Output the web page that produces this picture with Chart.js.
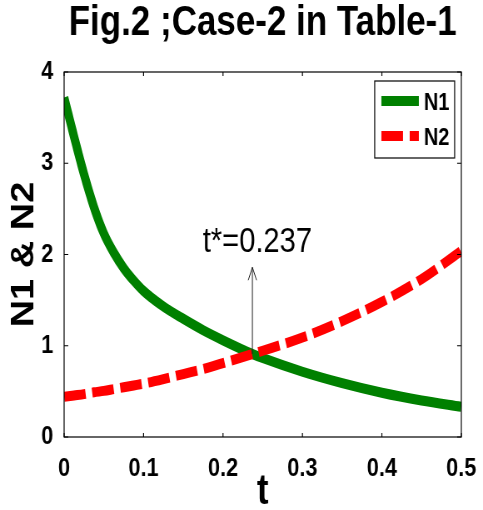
<!DOCTYPE html>
<html lang="en">
<head>
  <meta charset="UTF-8">
  <title>Fig.2 ;Case-2 in Table-1</title>
  <script src="https://cdn.jsdelivr.net/npm/chart.js"></script>
  <style>
    body { margin: 0; background: #fff; }
    #plot { display: block; }
  </style>
</head>
<body>
  <!-- drawn wide, then squeezed to 483px so the text gets the narrow look of the figure -->
  <canvas id="plot" width="580" height="510" style="width:483px;height:510px"></canvas>

  <script>
    // time samples and the two populations
    const tValues  = [0, 0.0125, 0.025, 0.0375, 0.05, 0.0625, 0.075, 0.0875, 0.1, 0.125, 0.15, 0.175, 0.2, 0.237, 0.25, 0.3, 0.35, 0.4, 0.45, 0.5];
    const n1Values = [3.72, 3.29, 2.88, 2.52, 2.23, 2.02, 1.85, 1.715, 1.60, 1.43, 1.295, 1.17, 1.06, 0.91, 0.865, 0.715, 0.59, 0.485, 0.40, 0.33];
    const n2Values = [0.44, 0.455, 0.47, 0.49, 0.505, 0.525, 0.545, 0.565, 0.585, 0.635, 0.69, 0.745, 0.81, 0.91, 0.945, 1.09, 1.27, 1.48, 1.73, 2.04];

    const xTicks = [0, 0.1, 0.2, 0.3, 0.4, 0.5];
    const xTickLabels = ['0', '0.1', '0.2', '0.3', '0.4', '0.5'];
    const yTicks = [0, 1, 2, 3, 4];
    const yTickLabels = ['0', '1', '2', '3', '4'];

    // crossing time and the top of the arrow pointing at it
    const tStar = 0.237;
    const arrowTop = 1.86;

    const FONT = '"Liberation Sans", Arial, sans-serif';

    // box around the axes with inward tick marks on all four sides
    const framePlugin = {
      id: 'frame',
      afterDraw(chart) {
        const { ctx, chartArea: a, scales: { x, y } } = chart;
        ctx.save();
        ctx.strokeStyle = '#000';
        ctx.lineWidth = 1.2;
        ctx.strokeRect(a.left, a.top, a.right - a.left, a.bottom - a.top);
        ctx.beginPath();
        xTicks.forEach(v => {
          const px = x.getPixelForValue(v);
          ctx.moveTo(px, a.bottom); ctx.lineTo(px, a.bottom - 4);
          ctx.moveTo(px, a.top);    ctx.lineTo(px, a.top + 4);
        });
        yTicks.forEach(v => {
          const py = y.getPixelForValue(v);
          ctx.moveTo(a.left, py);  ctx.lineTo(a.left + 5, py);
          ctx.moveTo(a.right, py); ctx.lineTo(a.right - 5, py);
        });
        ctx.stroke();
        ctx.restore();
      }
    };

    // arrow and label at the crossing point
    const crossPlugin = {
      id: 'cross',
      afterDatasetsDraw(chart) {
        const { ctx, scales: { x, y } } = chart;
        const px = x.getPixelForValue(tStar);
        const y0 = y.getPixelForValue(n1Values[tValues.indexOf(tStar)]);
        const y1 = y.getPixelForValue(arrowTop);
        ctx.save();
        ctx.strokeStyle = '#222';
        ctx.lineWidth = 1;
        ctx.beginPath();
        ctx.moveTo(px, y0); ctx.lineTo(px, y1);
        ctx.moveTo(px - 5, y1 + 13); ctx.lineTo(px, y1); ctx.lineTo(px + 5, y1 + 13);
        ctx.stroke();
        ctx.fillStyle = '#000';
        ctx.font = '35px ' + FONT;
        ctx.textAlign = 'center';
        ctx.textBaseline = 'alphabetic';
        ctx.fillText('t*=' + tStar, px + 6, y1 - 15);
        ctx.restore();
      }
    };

    // legend box in the upper right corner
    const legendPlugin = {
      id: 'boxLegend',
      afterDraw(chart) {
        const { ctx, chartArea: a } = chart;
        const w = 96, h = 77;
        const left = a.right - 8 - w, top = a.top + 9;
        ctx.save();
        ctx.fillStyle = '#fff';
        ctx.fillRect(left, top, w, h);
        ctx.strokeStyle = '#000';
        ctx.lineWidth = 1.2;
        ctx.strokeRect(left, top, w, h);
        const rows = [top + 20, top + 55];
        chart.data.datasets.forEach((ds, i) => {
          const ry = rows[i];
          ctx.strokeStyle = ds.borderColor;
          ctx.lineWidth = ds.borderWidth;
          ctx.setLineDash(ds.borderDash || []);
          ctx.beginPath();
          ctx.moveTo(left + 8, ry);
          ctx.lineTo(left + 53, ry);
          ctx.stroke();
          ctx.setLineDash([]);
          ctx.fillStyle = '#000';
          ctx.font = 'bold 24px ' + FONT;
          ctx.textAlign = 'left';
          ctx.textBaseline = 'middle';
          ctx.fillText(ds.label, left + 59, ry + 2);
        });
        ctx.restore();
      }
    };

    new Chart(document.getElementById('plot'), {
      type: 'line',
      data: {
        datasets: [
          {
            label: 'N1',
            data: tValues.map((t, i) => ({ x: t, y: n1Values[i] })),
            borderColor: '#008000',
            borderWidth: 10,
            pointRadius: 0,
            cubicInterpolationMode: 'monotone',
            order: 1
          },
          {
            label: 'N2',
            data: tValues.map((t, i) => ({ x: t, y: n2Values[i] })),
            borderColor: '#ff0000',
            borderWidth: 10,
            borderDash: [26, 8],
            borderCapStyle: 'butt',
            pointRadius: 0,
            cubicInterpolationMode: 'monotone',
            order: 0
          }
        ]
      },
      options: {
        responsive: false,
        animation: false,
        devicePixelRatio: 1,
        events: [],
        layout: { padding: { top: 0, right: 23, bottom: 0, left: 0 } },
        plugins: {
          legend: { display: false },
          tooltip: { enabled: false },
          title: {
            display: true,
            text: 'Fig.2 ;Case-2 in Table-1',
            fullSize: false,
            color: '#000',
            font: { family: FONT, size: 42, weight: 'bold', lineHeight: 1 },
            padding: { top: 2, bottom: 28 }
          }
        },
        scales: {
          x: {
            type: 'linear',
            min: 0,
            max: 0.5,
            afterBuildTicks: s => { s.ticks = xTicks.map(v => ({ value: v })); },
            afterFit: s => { s.height = 73; },
            grid: { display: false },
            border: { display: false },
            ticks: {
              padding: 8,
              color: '#000',
              font: { family: FONT, size: 26, weight: 'bold' },
              maxRotation: 0,
              callback: (v, i) => xTickLabels[i]
            },
            title: {
              display: true,
              text: 't',
              color: '#000',
              font: { family: FONT, size: 42, weight: 'bold', lineHeight: 0.8 },
              padding: { top: 0, bottom: 1 }
            }
          },
          y: {
            min: 0,
            max: 4,
            afterBuildTicks: s => { s.ticks = yTicks.map(v => ({ value: v })); },
            afterFit: s => { s.width = 77; },
            grid: { display: false },
            border: { display: false },
            ticks: {
              padding: 5,
              color: '#000',
              font: { family: FONT, size: 26, weight: 'bold' },
              callback: (v, i) => yTickLabels[i]
            },
            title: {
              display: true,
              text: 'N1 & N2',
              color: '#000',
              font: { family: FONT, size: 38, weight: 'bold', lineHeight: 1 },
              padding: { top: 11, bottom: 0 }
            }
          }
        }
      },
      plugins: [crossPlugin, framePlugin, legendPlugin]
    });
  </script>
</body>
</html>
